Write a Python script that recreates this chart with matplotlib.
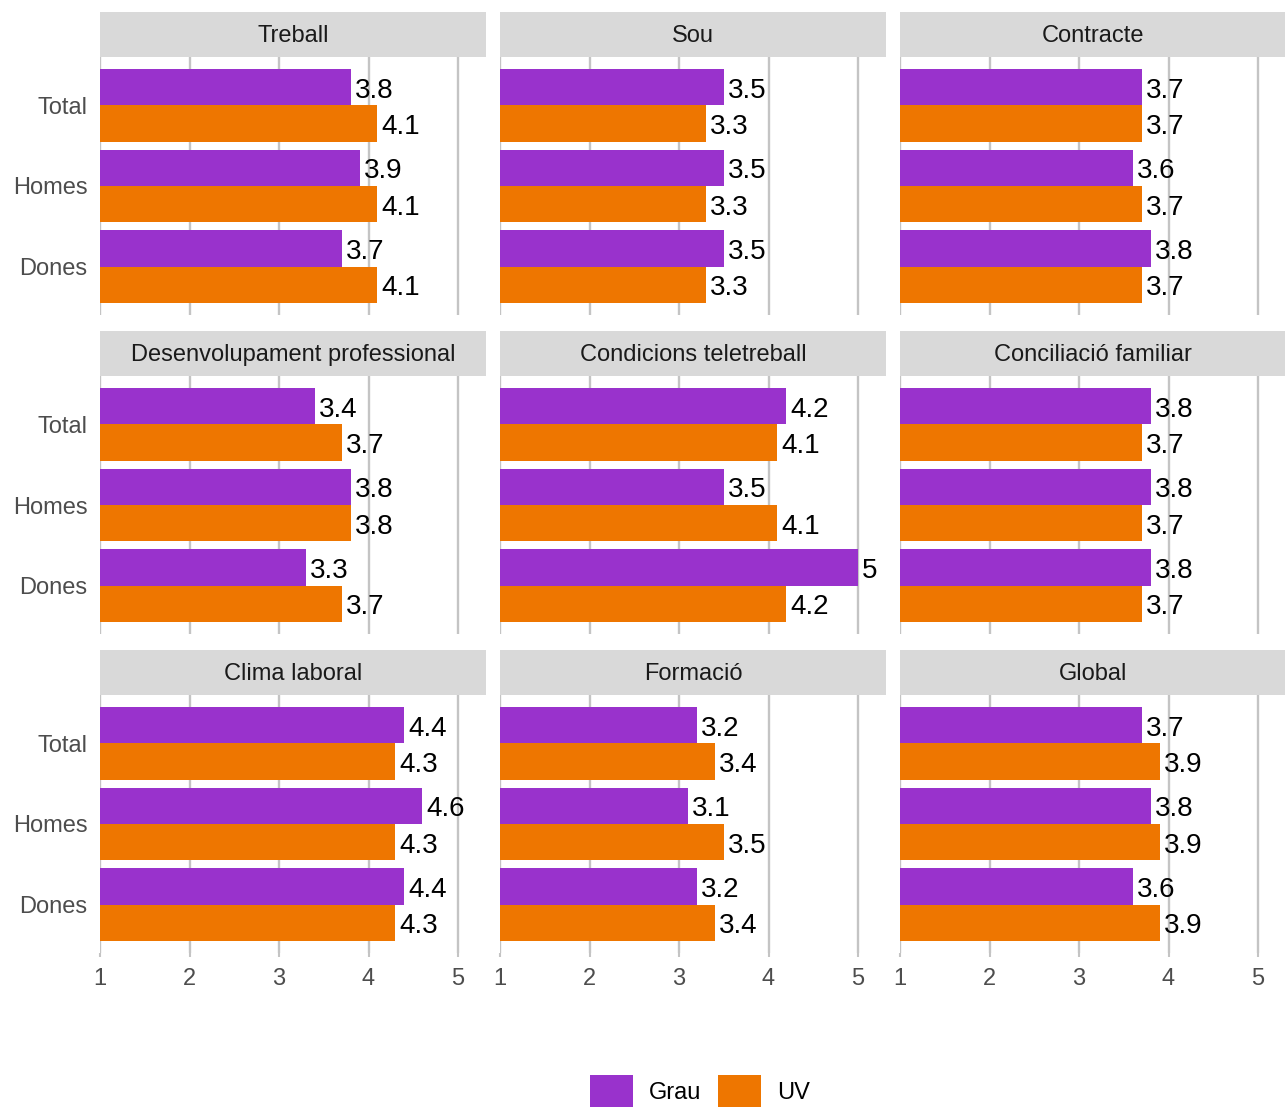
import matplotlib
matplotlib.use('Agg')
import matplotlib.pyplot as plt
from matplotlib.patches import Patch

plt.rcParams['font.family'] = ['Liberation Sans', 'DejaVu Sans']

facets = ['Treball', 'Sou', 'Contracte',
          'Desenvolupament professional', 'Condicions teletreball', 'Conciliació familiar',
          'Clima laboral', 'Formació', 'Global']
groups = ['Total', 'Homes', 'Dones']
grau = [[3.8, 3.9, 3.7], [3.5, 3.5, 3.5], [3.7, 3.6, 3.8],
        [3.4, 3.8, 3.3], [4.2, 3.5, 5.0], [3.8, 3.8, 3.8],
        [4.4, 4.6, 4.4], [3.2, 3.1, 3.2], [3.7, 3.8, 3.6]]
uv = [[4.1, 4.1, 4.1], [3.3, 3.3, 3.3], [3.7, 3.7, 3.7],
      [3.7, 3.8, 3.7], [4.1, 4.1, 4.2], [3.7, 3.7, 3.7],
      [4.3, 4.3, 4.3], [3.4, 3.5, 3.4], [3.9, 3.9, 3.9]]
xticks = [1, 2, 3, 4, 5]

c_grau = '#9932CC'
c_uv = '#EE7600'

W, H = 1285, 1108
fig = plt.figure(figsize=(W / 100, H / 100), dpi=100)

col_left = [100, 500, 900]
panel_top = [57, 376, 695]
pw, ph, sh = 386, 258, 45

ypos = [3, 2, 1]
for i, name in enumerate(facets):
    r, c = divmod(i, 3)
    x0 = col_left[c]
    ax = fig.add_axes([x0 / W, 1 - (panel_top[r] + ph) / H, pw / W, ph / H])
    st = fig.add_axes([x0 / W, 1 - panel_top[r] / H, pw / W, sh / H])
    st.set_facecolor('#D9D9D9')
    st.set_xticks([]); st.set_yticks([])
    for s in st.spines.values():
        s.set_visible(False)
    st.text(0.5, 0.33, name, ha='center', va='baseline', fontsize=17, color='#1A1A1A',
            transform=st.transAxes)

    for x in xticks:
        ax.axvline(x, color='#C4C4C4', lw=1.7, zorder=0)
    yg = [y + 0.225 for y in ypos]
    yu = [y - 0.225 for y in ypos]
    ax.barh(yg, [v - 1 for v in grau[i]], left=1, height=0.45, color=c_grau, zorder=2)
    ax.barh(yu, [v - 1 for v in uv[i]], left=1, height=0.45, color=c_uv, zorder=2)
    # labels: baseline placed so the digits sit centred on the bar
    for y, v in zip(yg, grau[i]):
        ax.text(v + 0.045, y - 0.13, f'{v:g}', ha='left', va='baseline', fontsize=20,
                color='black', zorder=3)
    for y, v in zip(yu, uv[i]):
        ax.text(v + 0.045, y - 0.13, f'{v:g}', ha='left', va='baseline', fontsize=20,
                color='black', zorder=3)

    ax.set_xlim(1, 1 + pw / 89.5)
    ax.set_ylim(0.4, 3.6)
    for s in ax.spines.values():
        s.set_visible(False)
    ax.set_xticks(xticks)
    ax.set_yticks(ypos)
    ax.tick_params(axis='x', length=3, width=1.5, color='#C4C4C4', pad=8,
                   labelsize=17, labelcolor='#4D4D4D')
    ax.tick_params(axis='y', length=0, pad=9, labelsize=17, labelcolor='#4D4D4D')
    if r == 2:
        ax.set_xticklabels([str(x) for x in xticks])
    else:
        ax.set_xticklabels([])
        ax.tick_params(axis='x', length=0)
    if c == 0:
        ax.set_yticklabels(groups)
    else:
        ax.set_yticklabels([])

handles = [Patch(facecolor=c_grau, label='Grau'), Patch(facecolor=c_uv, label='UV')]
fig.legend(handles=handles, loc='center', bbox_to_anchor=(700 / W, 1 - 1091 / H), ncol=2,
           frameon=False, fontsize=17, handlelength=1.8, handleheight=1.65,
           handletextpad=0.68, columnspacing=0.72, borderpad=0)

fig.savefig('out.png', dpi=100)
